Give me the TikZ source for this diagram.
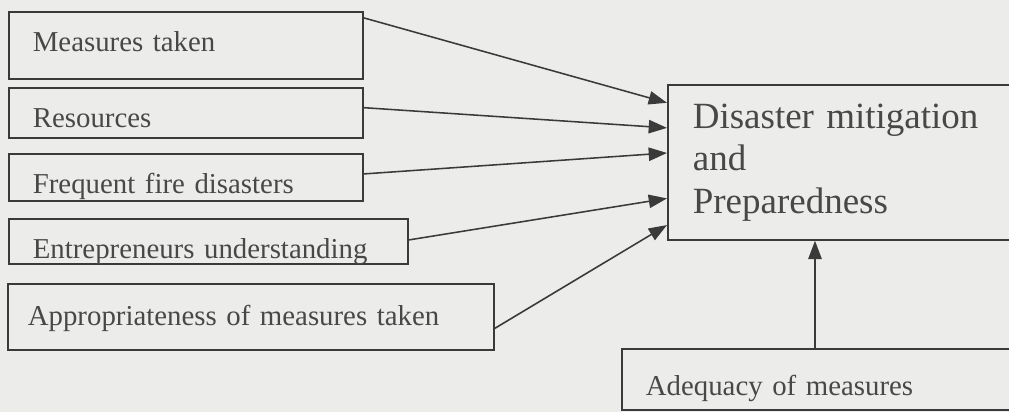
\documentclass[tikz,border=0pt]{standalone}
\usepackage{fontspec}
\setmainfont{Liberation Serif}
\usepackage{xcolor}
\usepackage{tikz}
\usetikzlibrary{arrows.meta,calc}

\definecolor{scanbg}{RGB}{236,236,234}
\definecolor{ink}{RGB}{58,58,58}
\definecolor{inktext}{RGB}{72,72,72}

\begin{document}
\begin{tikzpicture}[
      x=0.025cm, y=-0.025cm,
      >={Triangle[length=13pt,width=9.5pt]},
      factor/.style={draw=ink, text=inktext, line width=1.2pt, anchor=north west,
        inner xsep=0.6cm, inner ysep=0pt, align=left, text height=1cm,
        font=\fontsize{20.5}{24}\selectfont},
      outcome/.style={draw=ink, text=inktext, line width=1.2pt, anchor=north west,
        inner xsep=0.625cm, inner ysep=0pt, align=left, text width=8.575cm,
        minimum height=3.875cm, font=\fontsize{26.3}{30.2}\selectfont},
      flow/.style={->, line width=1.1pt, draw=ink}]
    \useasboundingbox (0,0) rectangle (1009,412);
    \fill[scanbg] (0,0) rectangle (1009,412);
    \clip (0,0) rectangle (1009,412);

    \node[factor, text width=7.65cm, text depth=0.675cm] (taken) at (8,11) {Measures taken};
    \node[factor, text width=7.65cm, text depth=0.25cm] (resources) at (8,87) {Resources};
    \node[factor, text width=7.65cm, text depth=0.175cm] (fires) at (8,153) {Frequent fire disasters};
    \node[factor, text width=8.775cm, text depth=0.125cm] (owners) at (8,218) {Entrepreneurs understanding};
    \node[factor, inner xsep=0.5cm, text width=11.15cm, text height=1.05cm,
      text depth=0.6cm] (approp) at (7,283) {Appropriateness of measures taken};

    \node[outcome] (dmp) at (667,84) {Disaster mitigation\\and\\Preparedness};
    \node[factor, text width=9.775cm, text height=1.175cm, text depth=0.35cm] (adequacy)
      at (621,348) {Adequacy of measures};

    \draw[flow] ($(taken.north east)!0.1!(taken.south east)$)
      -- ($(dmp.north west)!0.12!(dmp.south west)$);
    \draw[flow] ($(resources.north east)!0.4!(resources.south east)$)
      -- ($(dmp.north west)!0.28!(dmp.south west)$);
    \draw[flow] ($(fires.north east)!0.43!(fires.south east)$)
      -- ($(dmp.north west)!0.44!(dmp.south west)$);
    \draw[flow] ($(owners.north east)!0.47!(owners.south east)$)
      -- ($(dmp.north west)!0.73!(dmp.south west)$);
    \draw[flow] ($(approp.north east)!0.67!(approp.south east)$)
      -- ($(dmp.north west)!0.9!(dmp.south west)$);
    \draw[flow] ($(adequacy.north west)+(194,0)$) coordinate (rise) -- (rise |- dmp.south);
  \end{tikzpicture}
\end{document}
